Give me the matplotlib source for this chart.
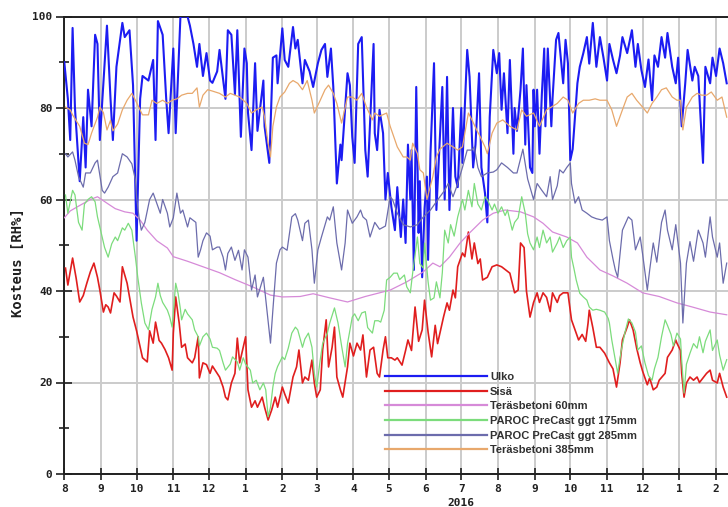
import matplotlib
matplotlib.use("Agg")
import matplotlib.pyplot as plt
import matplotlib.dates as mdates
import matplotlib.transforms as mtransforms
from matplotlib.ticker import MultipleLocator, FuncFormatter
import numpy as np

# Relative humidity measurements, days counted from 1 Aug 2015
START = np.datetime64("2015-08-01")

ulko_day = [0, 3, 5, 7, 9, 13, 16, 18, 20, 23, 26, 28, 30, 36, 39, 41, 44, 49, 51, 55, 58, 61, 64, 66, 71, 75,
            77, 79, 83, 86, 88, 92, 94, 98, 104, 106, 109, 112, 114, 117, 120, 123, 125, 129, 131, 136, 138, 141,
            144, 146, 149, 152, 154, 155, 158, 161, 163, 168, 169, 173, 176, 179, 180, 184, 186, 189, 193, 195,
            197, 201, 203, 207, 210, 214, 217, 220, 222, 225, 227, 230, 233, 234, 239, 241, 243, 245, 248, 251,
            254, 256, 261, 262, 264, 266, 269, 271, 273, 276, 279, 281, 284, 286, 288, 290, 292, 293, 295, 297,
            299, 300, 302, 304, 306, 307, 309, 312, 314, 319, 321, 323, 325, 328, 330, 332, 335, 336, 340, 342,
            345, 347, 350, 352, 355, 357, 359, 362, 365, 367, 369, 371, 374, 376, 379, 380, 382, 385, 387, 389,
            390, 393, 395, 396, 397, 399, 401, 403, 405, 406, 408, 411, 412, 415, 417, 421, 423, 425, 427, 429,
            433, 435, 438, 441, 443, 446, 449, 452, 455, 458, 460, 463, 466, 469, 471, 475, 479, 482, 484, 487,
            490, 493, 496, 498, 501, 504, 507, 509, 513, 516, 518, 521, 524, 526, 530, 532, 535, 539, 541, 545,
            547, 550, 553, 556, 559]
ulko_rh = [90, 82, 73, 97.5, 80, 64, 78, 67, 84, 76, 96, 94, 73, 98, 82, 73, 89, 98.6, 95.5, 97, 85, 51, 82, 87,
           86, 90.5, 73, 99, 96, 82, 74.5, 93, 74.5, 100, 100, 98, 94, 89, 94, 87, 92, 86, 85.5, 88, 92.7, 82, 97,
           96, 83, 97, 73.7, 93, 89.8, 79, 70.8, 89.8, 75, 86, 76, 68, 91, 91.5, 85.4, 97.4, 90.5, 89, 97.7, 93,
           94.9, 85.4, 90.5, 88, 84.6, 89.8, 92.7, 94, 86.8, 93, 84.6, 63.5, 72, 68.6, 87.6, 85, 73.7, 68, 94,
           95.5, 70.8, 65, 94, 74.5, 70.8, 79.6, 74.5, 60, 65.8, 58.4, 53.3, 62.7, 51.8, 60, 50.5, 72, 60, 70.8,
           44.6, 84.6, 52.7, 64, 43, 58, 65, 46.8, 70, 89.8, 57.7, 84.6, 60, 86.8, 57.7, 80, 65, 62.7, 80, 68,
           92.7, 86.8, 67, 72, 87.6, 67, 61.4, 55, 78, 92.7, 87.6, 92, 79.6, 87.6, 74.5, 90.5, 70, 80, 75, 84, 93,
           72, 85, 67, 65.8, 84, 76, 84, 70, 83, 93, 76, 93, 76, 82, 94.9, 96.4, 85.4, 94.9, 89.8, 68.6, 71, 85.4,
           89, 92, 95.5, 89.7, 98.6, 89, 95.5, 91, 86, 94, 90.6, 87.6, 91.5, 95.5, 92, 97, 89, 94, 88.3, 84.6,
           90.6, 81.7, 91.5, 89, 95.5, 91, 96.4, 89, 85.4, 91, 76, 85.4, 92.7, 86, 89, 87, 68, 89, 85.4, 91, 87,
           93, 89.8, 85.4]

sisa_day = [1, 3, 7, 10, 13, 16, 19, 22, 25, 28, 30, 33, 35, 37, 39, 42, 44, 47, 49, 53, 55, 58, 61, 64, 66, 70,
            72, 75, 77, 80, 82, 85, 88, 91, 92, 94, 97, 99, 102, 104, 108, 110, 113, 114, 117, 120, 123, 125, 129,
            131, 134, 136, 138, 141, 144, 146, 148, 151, 153, 155, 158, 161, 163, 167, 169, 172, 175, 178, 180,
            184, 186, 189, 193, 196, 198, 201, 203, 206, 209, 211, 213, 216, 218, 221, 223, 226, 228, 230, 233,
            235, 239, 241, 244, 247, 250, 252, 255, 258, 261, 264, 266, 269, 271, 273, 276, 279, 281, 285, 288,
            290, 293, 296, 299, 302, 304, 307, 310, 313, 315, 320, 323, 325, 328, 330, 332, 336, 338, 341, 344,
            346, 349, 351, 353, 357, 361, 365, 369, 373, 376, 380, 383, 385, 388, 390, 393, 396, 399, 401, 404,
            407, 410, 412, 416, 418, 421, 425, 428, 431, 434, 437, 440, 442, 443, 446, 449, 452, 456, 460, 463,
            466, 469, 471, 475, 477, 480, 483, 486, 488, 492, 494, 497, 500, 502, 507, 509, 513, 516, 517, 520,
            521, 523, 525, 528, 531, 534, 536, 539, 542, 545, 547, 551, 553, 556, 559]
sisa_rh = [45, 41.3, 47.2, 42.8, 37.6, 39, 41.7, 44.2, 46.1, 43, 40.2, 35.4, 37, 36.5, 35.2, 39.6, 38.9, 37.6,
           45.3, 41.7, 38.7, 34.3, 31.3, 27.7, 25.4, 24.5, 31.3, 28.6, 33.2, 29.2, 28.6, 27.2, 25.4, 22.7, 30.8,
           38.7, 32.9, 27.7, 28.4, 25.4, 24.3, 25.4, 30, 21, 24.3, 23.9, 22, 23.6, 22, 21.2, 19, 16.8, 16.2, 19.9,
           22, 29.7, 24.3, 27.7, 30, 18.4, 14.6, 16, 14.6, 16.8, 14.6, 11.8, 14, 16.8, 14.6, 19, 17.5, 15.5, 21.2,
           23.4, 27.1, 19.9, 21.2, 20.5, 24.9, 19.9, 16.8, 18.4, 27.1, 33.7, 23.4, 27.7, 32.1, 21.2, 18.4, 16.8,
           23.4, 28.6, 25.8, 28.6, 27.1, 30.4, 21.2, 27.1, 27.7, 22, 21.2, 27.1, 30, 25.4, 25.4, 24.9, 25.4, 23.8,
           27, 29.3, 27, 36.5, 29, 31.5, 38, 31, 25.6, 32.5, 28.5, 34.3, 37.4, 35.8, 40.2, 38.5, 45.3, 48.3, 47.5,
           52.9, 47, 50.5, 46, 47, 42.4, 43, 45.3, 45.7, 45.3, 44.5, 43.9, 39.6, 40.2, 50.5, 49.5, 40, 34.3, 37.5,
           39.6, 37.5, 39.6, 38.6, 35.5, 39.6, 37.5, 39, 39.6, 39.6, 33.7, 31.5, 29.3, 30.5, 29, 33, 35.8, 32,
           27.7, 27.7, 26.4, 24.3, 23, 19, 24.3, 29.3, 32.1, 33.7, 31.5, 27.5, 24.3, 22.5, 19.5, 21, 18.4, 19,
           20.5, 22, 25.5, 27.1, 29.3, 28.6, 27, 22, 16.8, 19.9, 21.2, 20.5, 21.2, 20, 21, 22, 22.7, 20.5, 19.9,
           22, 19, 16.8]

tb60_day = [0, 5, 11, 22, 28, 36, 43, 51, 58, 64, 70, 78, 87, 92, 104, 117, 131, 144, 159, 174, 184, 199, 210,
            224, 239, 254, 266, 275, 289, 303, 311, 317, 325, 334, 342, 353, 362, 372, 385, 396, 404, 412, 424,
            433, 441, 452, 463, 475, 488, 502, 517, 530, 545, 559]
tb60_rh = [56, 57.5, 58.4, 60, 60.6, 59.2, 58, 57.3, 57, 55.5, 53.3, 51, 49.4, 47.5, 46.5, 45.3, 44, 42.5, 40.9,
           39.1, 38.7, 38.8, 39.4, 38.5, 37.6, 38.8, 39.6, 40.2, 42, 44.2, 46.1, 45.3, 47.4, 50.5, 52.7, 55.5, 57,
           57.7, 57.3, 56.2, 54.8, 52.9, 51.8, 50.5, 47.4, 44.6, 43.3, 41.7, 39.6, 38.8, 37.4, 36.5, 35.4, 34.8]

p175_day = [1, 3, 7, 9, 12, 15, 17, 20, 23, 26, 28, 32, 34, 37, 40, 43, 45, 49, 51, 54, 57, 60, 62, 65, 68, 71,
            74, 77, 79, 81, 83, 87, 89, 91, 94, 96, 98, 99, 102, 104, 108, 110, 113, 114, 117, 120, 123, 125, 129,
            131, 134, 136, 140, 142, 146, 148, 151, 153, 157, 159, 162, 165, 168, 170, 172, 174, 176, 178, 180,
            184, 186, 189, 192, 195, 197, 201, 203, 206, 209, 211, 213, 216, 218, 222, 224, 228, 231, 234, 237,
            239, 243, 245, 248, 251, 254, 256, 260, 262, 265, 267, 270, 272, 275, 278, 281, 283, 287, 289, 292,
            294, 298, 300, 303, 304, 307, 309, 312, 314, 317, 319, 321, 324, 326, 329, 332, 336, 338, 341, 344,
            346, 349, 352, 355, 357, 361, 363, 366, 369, 372, 374, 378, 380, 383, 386, 389, 391, 393, 396, 399,
            401, 404, 407, 410, 412, 416, 418, 421, 424, 427, 428, 430, 432, 435, 438, 441, 443, 446, 449, 452,
            456, 459, 460, 462, 465, 467, 470, 473, 476, 479, 482, 484, 487, 490, 493, 496, 498, 501, 504, 507,
            509, 512, 514, 517, 520, 521, 523, 525, 528, 531, 534, 536, 539, 541, 545, 547, 551, 553, 556, 559]
p175_rh = [61, 57, 62, 61, 55, 53.3, 59, 60, 60.6, 59.5, 56.2, 51.8, 49.5, 47.4, 50.3, 51.8, 51, 53.8, 53.3,
           54.8, 53.3, 47.4, 43, 37.4, 33, 31.5, 36, 38.7, 41.7, 39, 37.5, 35.8, 34.3, 32.1, 41.7, 39.5, 36, 33.7,
           36, 35, 33.7, 31.5, 30, 28, 30, 30.8, 29.5, 27.7, 27.5, 27, 24.3, 22.7, 24, 25.6, 24.5, 22.7, 25.4, 24,
           22.7, 19.9, 20.5, 18.4, 19.9, 18.4, 12.5, 14.6, 19, 22, 23.5, 25.6, 25, 27.5, 30.8, 32.1, 31.5, 27.7,
           29.5, 30.8, 27.7, 22, 19, 25, 28.5, 30.8, 33, 36.3, 33, 28, 23.4, 28.5, 34.3, 35, 33.5, 35.2, 35.5, 32,
           30.8, 33.5, 33.5, 33.2, 35.8, 42.4, 43, 43.9, 43.9, 42.5, 43.5, 40.9, 39.6, 44, 51.8, 46, 45, 50.5, 42,
           38, 38.5, 42, 38.5, 44, 53.3, 50.5, 54.5, 52, 56.2, 60, 57.7, 62, 58.4, 63.5, 59, 57.7, 60.6, 60, 57.7,
           59, 57, 58.4, 56.5, 57.7, 53.3, 55, 56, 60.6, 57, 52.5, 50.5, 49, 51.8, 49.5, 53.3, 50.5, 51.8, 48.5,
           50.5, 51.8, 49.5, 51, 51.8, 47.4, 45, 42.4, 39.5, 38.7, 38, 36.5, 35.8, 36, 35.8, 35.4, 34, 33, 29.3,
           25, 22, 27, 30.8, 33.9, 33, 31, 27.1, 28, 24.3, 21.5, 20.5, 23, 25.5, 30, 33.7, 32.5, 30.5, 28, 30.8,
           29.5, 24.9, 17.7, 24, 26.4, 28.5, 27.5, 30, 26.5, 29, 31.5, 27, 29.3, 26, 22.7, 25]

p285_day = [1, 3, 7, 9, 12, 16, 18, 22, 26, 28, 32, 34, 37, 41, 45, 49, 53, 57, 60, 61, 63, 65, 68, 72, 75, 78,
            81, 83, 87, 89, 92, 95, 98, 100, 104, 106, 111, 113, 115, 117, 120, 123, 125, 129, 131, 134, 136, 138,
            141, 144, 147, 150, 152, 155, 158, 161, 163, 168, 171, 174, 176, 179, 182, 184, 188, 192, 195, 197,
            201, 203, 206, 209, 211, 214, 217, 222, 224, 227, 230, 234, 237, 239, 243, 247, 250, 252, 255, 258,
            262, 266, 271, 275, 277, 281, 286, 292, 298, 303, 309, 317, 321, 324, 328, 331, 336, 340, 344, 346,
            349, 352, 357, 362, 365, 369, 374, 379, 382, 387, 391, 396, 399, 403, 407, 410, 412, 416, 418, 421,
            424, 427, 428, 431, 434, 437, 441, 445, 449, 454, 458, 460, 463, 465, 467, 471, 476, 479, 482, 486,
            488, 492, 494, 497, 500, 504, 507, 509, 513, 516, 520, 522, 525, 528, 531, 535, 539, 541, 545, 547,
            551, 553, 556, 559]
p285_rh = [70, 69.3, 70.4, 68.6, 65, 62.7, 65.8, 65.8, 68, 68.6, 62, 61.4, 62.7, 65, 65.8, 70, 69.3, 67.8, 64.3,
           60.6, 56.2, 53.3, 55, 60, 61.4, 59.2, 57, 60, 57, 54, 56, 61.4, 57, 57.7, 54, 56, 55, 47.4, 49, 51,
           52.7, 52, 49, 49.6, 49.6, 47.4, 44.6, 48.2, 49.6, 46.7, 48.9, 44.6, 49, 47.4, 40.2, 43.5, 38.7, 43,
           35.8, 28.6, 35.8, 46.1, 49, 49.6, 48.9, 56.2, 56.9, 55.5, 51, 54.8, 55.5, 49, 41.7, 49, 51.8, 56.2,
           55.5, 58.4, 50.5, 44.6, 50.5, 57.7, 54.8, 56.2, 57.7, 56.2, 55.5, 51.8, 55, 53.5, 54.2, 60.6, 60, 57,
           54.5, 54, 54.5, 56.2, 57.7, 60.6, 62, 63.5, 60.6, 62.7, 67, 70.8, 70.8, 71.5, 67, 65, 65.8, 66, 66.5,
           68, 67, 65.8, 65.8, 71, 64.5, 60, 63.5, 62, 60.6, 65, 60, 63, 66.5, 65.8, 67, 68, 63.5, 59.2, 60.6,
           57.7, 57, 56.2, 55.8, 55.5, 56.2, 51, 47, 44.6, 43, 53.3, 56.2, 55.5, 49, 51.8, 48.1, 40.2, 44.6,
           50.5, 46.3, 55, 57.7, 53.3, 49, 54.5, 46.1, 33, 46.1, 50.8, 46.5, 53.3, 50.5, 47.4, 56.2, 51.8, 47.4,
           50.5, 41.7, 46.1]

tb385_day = [1, 5, 7, 13, 17, 20, 23, 28, 30, 33, 36, 39, 41, 45, 49, 53, 57, 60, 64, 66, 71, 74, 78, 83, 87,
             91, 95, 99, 104, 108, 112, 114, 117, 121, 125, 131, 136, 140, 144, 148, 154, 158, 162, 167, 169, 172,
             174, 176, 179, 182, 186, 190, 193, 197, 201, 205, 209, 211, 216, 220, 223, 227, 230, 234, 239, 243,
             247, 251, 255, 260, 262, 266, 272, 275, 277, 281, 286, 289, 292, 294, 298, 300, 303, 306, 311, 314,
             317, 323, 328, 332, 336, 341, 344, 348, 351, 355, 357, 361, 365, 370, 376, 382, 386, 390, 396, 401,
             407, 411, 416, 421, 425, 429, 434, 438, 443, 448, 452, 458, 462, 466, 471, 475, 479, 483, 488, 492,
             496, 500, 504, 508, 513, 517, 520, 522, 525, 530, 534, 538, 542, 546, 551, 555, 559]
tb385_rh = [80.2, 79.6, 78.5, 76, 72.3, 72, 74.5, 78, 80.2, 79, 75.2, 77.3, 75, 76.5, 79.6, 81.7, 83.2, 81.7,
            79.6, 78.5, 78.5, 81.7, 81, 81.7, 81, 81.7, 82, 82.8, 83.2, 83.2, 84.4, 80.2, 82.8, 84, 83.7, 83.2,
            82.4, 83.2, 82.8, 82.4, 81, 78.9, 79.6, 80.2, 78, 72.3, 69.3, 76, 80.2, 82.4, 83.5, 85.4, 86, 85.4, 84,
            86, 81.7, 78.9, 81.7, 84, 85, 83.2, 81, 76.7, 82.4, 82.4, 81.7, 83.2, 80.2, 77.4, 78.9, 78.2, 78.9, 76,
            74.5, 71.5, 69.3, 69.3, 68.6, 72.3, 70, 66.5, 65.8, 60, 65, 69.3, 71, 72.3, 71.5, 70.8, 71.5, 78.9,
            77.4, 75.2, 73.7, 71.5, 70, 74.5, 76.7, 77.4, 76, 75.2, 79.6, 78.2, 78.9, 76, 79.6, 80.2, 81, 82.4,
            81.7, 78.9, 81, 81.7, 81.7, 82, 81.7, 81.7, 79.6, 76, 79.6, 82.4, 83.2, 81.7, 80.2, 78.9, 81, 82.4, 84,
            84.4, 82.4, 81.7, 81.7, 75.2, 80.2, 82.4, 83.2, 82.8, 82.8, 83.5, 81.7, 82.4, 78]

series = [
    ("Ulko", ulko_day, ulko_rh, "#1c1cf2", 1.5),
    ("Sisä", sisa_day, sisa_rh, "#e01e1e", 1.2),
    ("Teräsbetoni 60mm", tb60_day, tb60_rh, "#d68ad8", 0.9),
    ("PAROC PreCast ggt 175mm", p175_day, p175_rh, "#7cdc7c", 0.9),
    ("PAROC PreCast ggt 285mm", p285_day, p285_rh, "#6c6cac", 0.9),
    ("Teräsbetoni 385mm", tb385_day, tb385_rh, "#e8a86c", 0.9),
]

W, H = 728, 507
fig = plt.figure(figsize=(W / 100, H / 100), dpi=100)
fig.patch.set_facecolor("white")
x0, y0, y1 = 64.3, 474.0, 16.5
span_days = (np.datetime64("2017-02-28") - START).astype(int)
ax = fig.add_axes([x0 / W, (H - y0) / H, span_days * 1.185 / W, (y0 - y1) / H])

for label, days, vals, color, lw in series:
    dates = START + np.array(days, dtype="timedelta64[D]")
    ax.plot(dates.astype("datetime64[ms]").astype(object), vals, color=color, lw=lw,
            label=label, solid_joinstyle="round", zorder=3)

ax.set_xlim(mdates.date2num(np.datetime64("2015-08-01")), mdates.date2num(np.datetime64("2017-02-28")))
ax.set_ylim(0, 100)

ax.xaxis.set_major_locator(mdates.MonthLocator())
ax.xaxis.set_major_formatter(FuncFormatter(lambda v, p: str(mdates.num2date(v).month)))
ax.yaxis.set_major_locator(MultipleLocator(20))
ax.yaxis.set_minor_locator(MultipleLocator(10))

ax.grid(which="major", color="#cbcbcb", lw=1.4, zorder=0)
ax.set_axisbelow(True)

tick_font = dict(family="DejaVu Sans Mono", weight="bold", size=8)
ax.tick_params(axis="x", which="major", direction="inout", length=9, width=1.2,
               color="#202020", pad=3, labelcolor="#202020")
ax.tick_params(axis="y", which="major", direction="inout", length=11, width=1.2,
               color="#202020", pad=3, labelcolor="#202020")
ax.tick_params(axis="y", which="minor", direction="inout", length=7, width=1.2, color="#202020")
for lab in ax.get_xticklabels() + ax.get_yticklabels():
    lab.set_fontfamily(tick_font["family"])
    lab.set_fontweight(tick_font["weight"])
    lab.set_fontsize(tick_font["size"])

for side in ("left", "bottom", "top"):
    ax.spines[side].set_color("#202020")
    ax.spines[side].set_linewidth(1.4)
ax.spines["right"].set_visible(False)

trans = mtransforms.blended_transform_factory(ax.transData, ax.transAxes)
ax.text(mdates.date2num(np.datetime64("2016-07-01")), -0.063, "2016", transform=trans,
        ha="center", va="center", fontfamily="DejaVu Sans Mono", fontweight="bold",
        fontsize=8, color="#202020")

fig.text(18 / W, 1 - 263 / H, "Kosteus [RH%]", rotation=90, ha="center", va="center",
         fontfamily="DejaVu Sans Mono", fontweight="bold", fontsize=10, color="#202020")

leg = ax.legend(loc="upper left", bbox_to_anchor=(385 / W, 1 - 372 / H),
                bbox_transform=fig.transFigure, frameon=False, borderpad=0, borderaxespad=0,
                handlelength=9.2, handletextpad=0.25, labelspacing=0.42,
                prop=dict(family="Liberation Sans", weight="bold", size=8))
for txt in leg.get_texts():
    txt.set_color("#303030")
for h in leg.get_lines():
    h.set_linewidth(1.6)

fig.savefig("out.png", dpi=100)
